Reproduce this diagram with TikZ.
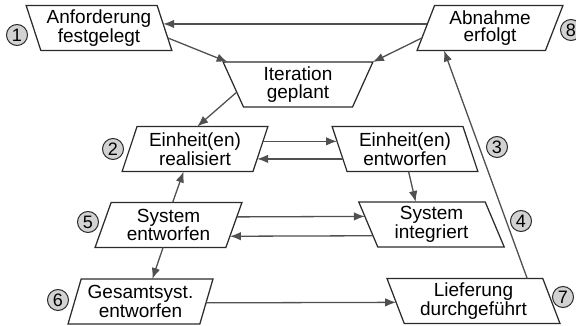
\documentclass[tikz,border=0pt]{standalone}
\usepackage{fontspec}
\setmainfont{Liberation Sans}
\usetikzlibrary{shapes.geometric,arrows.meta,calc}
\definecolor{edge}{HTML}{2B2B2B}
\definecolor{conn}{HTML}{505050}
\definecolor{badgefill}{HTML}{D2D2D2}
\begin{document}
\begin{tikzpicture}[x=1pt,y=-1pt,
  font=\fontsize{19}{17.5}\selectfont,
  box/.style={trapezium, trapezium stretches=true, draw=edge, line width=1.25pt,
    align=center, inner sep=0pt, outer sep=0pt, minimum height=45pt},
  lean/.style={box, trapezium left angle=70, trapezium right angle=110},
  back/.style={box, trapezium left angle=110, trapezium right angle=70},
  funnel/.style={box, trapezium left angle=110, trapezium right angle=110},
  badge/.style={circle, draw=edge, fill=badgefill, line width=1pt,
    minimum size=21pt, inner sep=0pt, font=\fontsize{18}{18}\selectfont},
  flow/.style={draw=conn, line width=1.3pt, -{Latex[length=11pt,width=8.5pt]}}
]
\useasboundingbox (0,0) rectangle (576,326);

% process states
\node[back,   minimum width=146pt] (anf)  at (99,28)      {Anforderung\\festgelegt};
\node[funnel, minimum width=150pt] (it)   at (298,84.5)   {Iteration\\geplant};
\node[lean,   minimum width=146pt] (abn)  at (490,28)     {Abnahme\\erfolgt};
\node[lean,   minimum width=146pt] (real) at (195,149)    {Einheit(en)\\realisiert};
\node[back,   minimum width=146pt] (ent)  at (405,149)    {Einheit(en)\\entworfen};
\node[lean,   minimum width=147pt] (sent) at (168.5,225)  {System\\entworfen};
\node[back,   minimum width=147pt] (sint) at (431.5,224.5){System\\integriert};
\node[lean,   minimum width=145pt] (ges)  at (140.5,301.5){Gesamtsyst.\\entworfen};
\node[back,   minimum width=173pt] (lief) at (473.5,301)  {Lieferung\\durchgeführt};

% step numbers
\node[badge] (n1) at (17,35)   {1};
\node[badge] (n2) at (113,149) {2};
\node[badge] (n3) at (497,147) {3};
\node[badge] (n4) at (521,221) {4};
\node[badge] (n5) at (88,222)  {5};
\node[badge] (n6) at (58,300)  {6};
\node[badge] (n7) at (563,297) {7};
\node[badge] (n8) at (571,30)  {8};

% transitions
\draw[flow] ($(abn.top left corner)!0.41!(abn.bottom left corner)$)
         -- ($(anf.top right corner)!0.41!(anf.bottom right corner)$);
\draw[flow] ($(anf.top right corner)!0.72!(anf.bottom right corner)$)
         -- ($(it.top left corner)!0.03!(it.top right corner)$);
\draw[flow] ($(abn.top left corner)!0.72!(abn.bottom left corner)$)
         -- ($(it.top right corner)!0.0!(it.top left corner)$);
\draw[flow] ($(it.top left corner)!0.67!(it.bottom left corner)$)
         -- ($(real.top left corner)!0.46!(real.top right corner)$);
\draw[flow] ($(real.top right corner)!0.33!(real.bottom right corner)$)
         -- ($(ent.top left corner)!0.33!(ent.bottom left corner)$);
\draw[flow] ($(ent.top left corner)!0.72!(ent.bottom left corner)$)
         -- ($(real.top right corner)!0.72!(real.bottom right corner)$);
\draw[flow] ($(sent.top left corner)!0.47!(sent.top right corner)$)
         -- ($(real.bottom left corner)!0.47!(real.bottom right corner)$);
\draw[flow] ($(ent.bottom left corner)!0.47!(ent.bottom right corner)$)
         -- ($(sint.top left corner)!0.45!(sint.top right corner)$);
\draw[flow] ($(sent.top right corner)!0.32!(sent.bottom right corner)$)
         -- ($(sint.top left corner)!0.32!(sint.bottom left corner)$);
\draw[flow] ($(sint.top left corner)!0.75!(sint.bottom left corner)$)
         -- ($(sent.top right corner)!0.75!(sent.bottom right corner)$);
\draw[flow] ($(sent.bottom left corner)!0.52!(sent.bottom right corner)$)
         -- ($(ges.top left corner)!0.54!(ges.top right corner)$);
\draw[flow] ($(ges.top right corner)!0.53!(ges.bottom right corner)$)
         -- ($(lief.top left corner)!0.53!(lief.bottom left corner)$);
\draw[flow] ($(lief.top left corner)!0.9!(lief.top right corner)$)
         -- ($(abn.bottom left corner)!0.21!(abn.bottom right corner)$);
\end{tikzpicture}
\end{document}
